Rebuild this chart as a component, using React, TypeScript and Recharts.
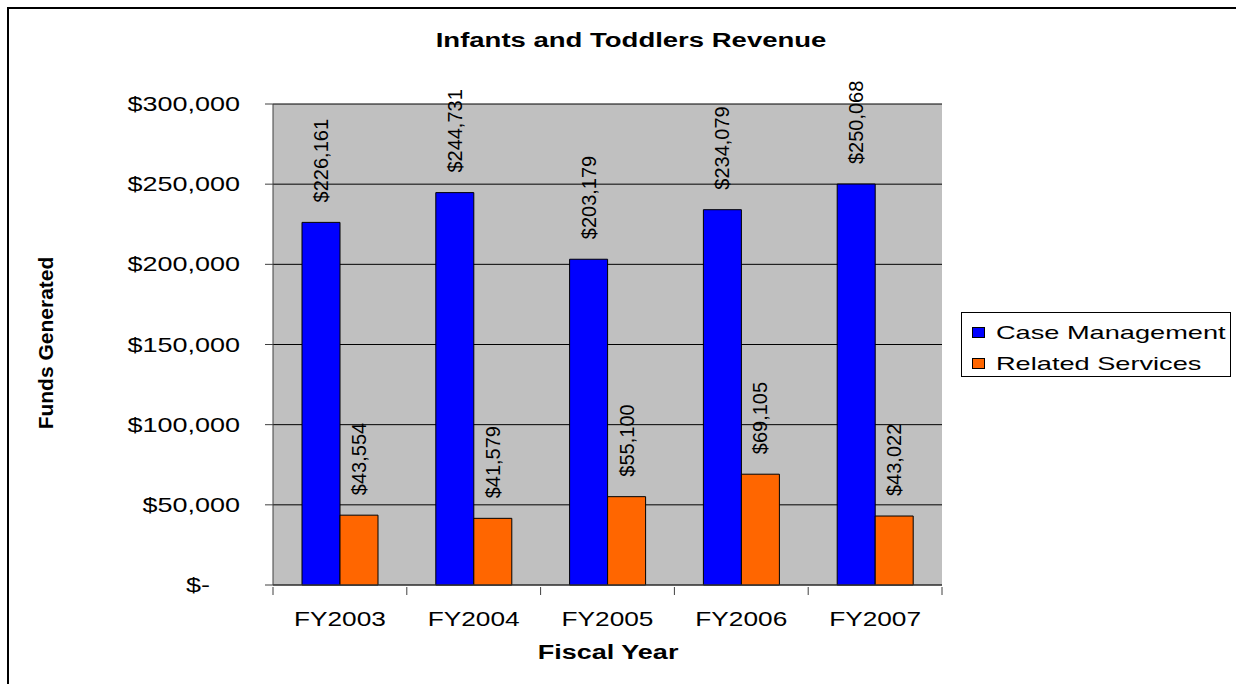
import { Bar, BarChart, CartesianGrid, LabelList, XAxis, YAxis } from "recharts";

const years = ["FY2003", "FY2004", "FY2005", "FY2006", "FY2007"];
const caseManagement = [226161, 244731, 203179, 234079, 250068];
const relatedServices = [43554, 41579, 55100, 69105, 43022];
const yTicks = [0, 50000, 100000, 150000, 200000, 250000, 300000];
const seriesNames = ["Case Management", "Related Services"];
const seriesColors = ["#0000FF", "#FF6600"];

const FONT = '"Liberation Sans", Arial, sans-serif';

const data = years.map((year, i) => ({
	year,
	cm: caseManagement[i],
	rs: relatedServices[i],
}));

const money = (v: number) => "$" + v.toLocaleString("en-US");
const tickMoney = (v: number) => (v === 0 ? "$-    " : money(v));

function YTick(props: any) {
	const { x, y, payload } = props;
	return (
		<text
			transform={`translate(${x},${y}) scale(1.35,1)`}
			textAnchor="end"
			dy={7}
			fontSize={20}
			fontFamily={FONT}
			fill="#000"
			style={{ whiteSpace: "pre" }}
		>
			{tickMoney(payload.value)}
		</text>
	);
}

function XTick(props: any) {
	const { x, y, payload } = props;
	const off = payload.offset ?? 0;
	const last = payload.value === years[years.length - 1];
	return (
		<g>
			<line x1={x - off} y1={y} x2={x - off} y2={y + 8} stroke="#404040" />
			{last && <line x1={x + off} y1={y} x2={x + off} y2={y + 8} stroke="#404040" />}
			<text
				transform={`translate(${x},${y + 39}) scale(1.25,1)`}
				textAnchor="middle"
				fontSize={21}
				fontFamily={FONT}
				fill="#000"
			>
				{payload.value}
			</text>
		</g>
	);
}

function ValueLabel(props: any) {
	const { x, y, width, value } = props;
	const cx = x + width / 2;
	const ty = y - 20;
	return (
		<text
			x={cx}
			y={ty}
			transform={`rotate(-90 ${cx} ${ty})`}
			textAnchor="start"
			dominantBaseline="central"
			fontSize={20}
			fontFamily={FONT}
			fill="#000"
		>
			{money(value)}
		</text>
	);
}

export default function App() {
	return (
		<div
			style={{
				position: "absolute",
				left: 0,
				top: 0,
				width: 1236,
				height: 684,
				overflow: "hidden",
				background: "#fff",
				fontFamily: FONT,
			}}
		>
			<div
				style={{
					position: "absolute",
					left: 7,
					top: 7,
					width: 1300,
					height: 720,
					borderLeft: "2px solid #000",
					borderTop: "2px solid #000",
				}}
			/>
			<div style={{ position: "absolute", left: 0, top: 0 }}>
				<BarChart
					width={1236}
					height={684}
					data={data}
					margin={{ top: 104, right: 294, bottom: 0, left: 0 }}
					barGap={0}
				>
					<CartesianGrid vertical={false} stroke="#000" fill="#C0C0C0" fillOpacity={1} />
					<XAxis
						dataKey="year"
						height={99}
						interval={0}
						tickSize={0}
						tickLine={false}
						axisLine={{ stroke: "#404040" }}
						tick={<XTick />}
					/>
					<XAxis
						xAxisId="top"
						dataKey="year"
						orientation="top"
						height={0}
						tick={false}
						tickLine={false}
						axisLine={{ stroke: "#808080" }}
					/>
					<YAxis
						width={273}
						domain={[0, 300000]}
						ticks={yTicks}
						interval={0}
						tickSize={8}
						tickMargin={25}
						tickLine={{ stroke: "#404040" }}
						axisLine={{ stroke: "#404040" }}
						tick={<YTick />}
					/>
					<YAxis
						yAxisId="right"
						orientation="right"
						width={0}
						domain={[0, 300000]}
						tick={false}
						tickLine={false}
						axisLine={{ stroke: "#808080" }}
					/>
					<Bar
						dataKey="cm"
						name={seriesNames[0]}
						fill={seriesColors[0]}
						stroke="#000"
						strokeWidth={1}
						barSize={38}
						isAnimationActive={false}
					>
						<LabelList dataKey="cm" content={<ValueLabel />} />
					</Bar>
					<Bar
						dataKey="rs"
						name={seriesNames[1]}
						fill={seriesColors[1]}
						stroke="#000"
						strokeWidth={1}
						barSize={38}
						isAnimationActive={false}
					>
						<LabelList dataKey="rs" content={<ValueLabel />} />
					</Bar>
				</BarChart>
			</div>
			{/* title */}
			<div
				style={{
					position: "absolute",
					left: 0,
					width: 1263,
					top: 28,
					height: 24,
					lineHeight: "24px",
					textAlign: "center",
					fontWeight: "bold",
					fontSize: 20,
				}}
			>
				<span style={{ display: "inline-block", transform: "scaleX(1.375)" }}>
					Infants and Toddlers Revenue
				</span>
			</div>
			{/* x axis title */}
			<div
				style={{
					position: "absolute",
					left: 0,
					width: 1217,
					top: 640,
					height: 24,
					lineHeight: "24px",
					textAlign: "center",
					fontWeight: "bold",
					fontSize: 20,
				}}
			>
				<span style={{ display: "inline-block", transform: "scaleX(1.35)" }}>Fiscal Year</span>
			</div>
			{/* y axis title */}
			<div
				style={{
					position: "absolute",
					left: 45.5 - 110,
					top: 342.5 - 12,
					width: 220,
					height: 24,
					lineHeight: "24px",
					textAlign: "center",
					fontWeight: "bold",
					fontSize: 21,
					transform: "rotate(-90deg)",
					whiteSpace: "nowrap",
				}}
			>
				Funds Generated
			</div>
			{/* legend */}
			<div
				style={{
					position: "absolute",
					left: 961,
					top: 312,
					width: 268,
					height: 63,
					border: "1px solid #000",
					background: "#fff",
				}}
			>
				{seriesNames.map((name, i) => (
					<div
						key={name}
						style={{
							position: "absolute",
							left: 0,
							top: i === 0 ? 8 : 39,
							height: 24,
							width: 268,
						}}
					>
						<div
							style={{
								position: "absolute",
								left: 10,
								top: 6,
								width: 11,
								height: 9,
								background: seriesColors[i],
								border: "1px solid #000",
							}}
						/>
						<div
							style={{
								position: "absolute",
								left: 34,
								top: 0,
								height: 24,
								lineHeight: "24px",
								fontSize: 19,
								whiteSpace: "nowrap",
								transform: "scaleX(1.43)",
								transformOrigin: "left center",
							}}
						>
							{name}
						</div>
					</div>
				))}
			</div>
		</div>
	);
}
